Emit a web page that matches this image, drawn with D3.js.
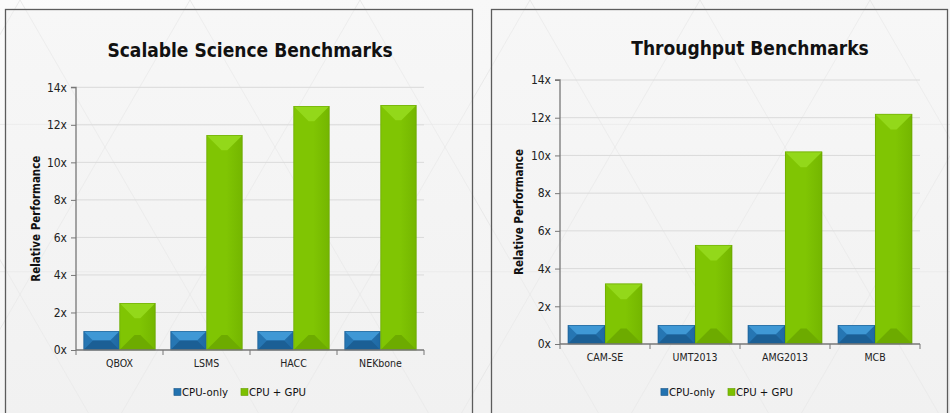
<!DOCTYPE html>
<html>
<head>
<meta charset="utf-8">
<script src="https://cdn.jsdelivr.net/npm/d3@7/dist/d3.min.js"></script>
<style>
  html, body { margin: 0; padding: 0; background: #f6f6f6; }
  svg { display: block; }
  text { font-family: "DejaVu Sans Condensed", "DejaVu Sans", sans-serif; font-stretch: condensed; }
</style>
</head>
<body>
<svg id="chart" width="950" height="413"></svg>
<script>
// ---- data ----
const seriesNames = ["CPU-only", "CPU + GPU"];
const yTickValues = [0, 2, 4, 6, 8, 10, 12, 14];

const scienceTitle = "Scalable Science Benchmarks";
const scienceCategories = ["QBOX", "LSMS", "HACC", "NEKbone"];
const scienceCpuOnly = [1, 1, 1, 1];
const scienceCpuGpu = [2.5, 11.45, 13.0, 13.05];

const throughputTitle = "Throughput Benchmarks";
const throughputCategories = ["CAM-SE", "UMT2013", "AMG2013", "MCB"];
const throughputCpuOnly = [1, 1, 1, 1];
const throughputCpuGpu = [3.2, 5.25, 10.2, 12.2];

const yLabel = "Relative Performance";

// ---- layout ----
const panels = [
  {
    title: scienceTitle, categories: scienceCategories,
    series: [scienceCpuOnly, scienceCpuGpu],
    box: { x: 5, y: 9, w: 468, h: 406 },
    plot: { left: 76, right: 424, top: 87.3, bottom: 350 },
    titlePos: [250, 57], yLabelX: 36, legendX: 240, legendY: 392
  },
  {
    title: throughputTitle, categories: throughputCategories,
    series: [throughputCpuOnly, throughputCpuGpu],
    box: { x: 491, y: 9, w: 457, h: 406 },
    plot: { left: 560, right: 920, top: 80, bottom: 344 },
    titlePos: [750, 55], yLabelX: 519, legendX: 727, legendY: 392
  }
];

// bevel colours: top, body gradient left/right, bottom, outline
const palettes = [
  { top: "#3f98d5", left: "#2676b3", right: "#1f69a3", bottom: "#1b5f95", edge: "#1a5687", swatch: "#2272b0" },
  { top: "#93d81a", left: "#80c503", right: "#74b600", bottom: "#6dab00", edge: "#649c00", swatch: "#7cc000" }
];

const svg = d3.select("#chart");
const defs = svg.append("defs");

// background
const bg = defs.append("linearGradient").attr("id", "bgGrad").attr("x1", 0).attr("y1", 0).attr("x2", 1).attr("y2", 1);
bg.append("stop").attr("offset", "0%").attr("stop-color", "#fbfbfb");
bg.append("stop").attr("offset", "100%").attr("stop-color", "#efefef");
svg.append("rect").attr("width", 950).attr("height", 413).attr("fill", "url(#bgGrad)");

// faint triangular lattice
function lattice(g, side, stroke, opacity) {
  const h = side * Math.sqrt(3) / 2;
  const lines = [];
  for (let y = -side; y < 413 + side; y += h) lines.push([-50, y, 1000, y]);
  const span = 1400;
  for (let x = -1000; x < 2000; x += side) {
    lines.push([x, 0, x + span / Math.sqrt(3), span]);
    lines.push([x, 0, x - span / Math.sqrt(3), span]);
  }
  g.selectAll("line.lat").data(lines).join("line")
    .attr("x1", d => d[0]).attr("y1", d => d[1]).attr("x2", d => d[2]).attr("y2", d => d[3])
    .attr("stroke", stroke).attr("stroke-width", 1).attr("opacity", opacity);
}
lattice(svg.append("g"), 170, "#e4e4e4", 0.7);

const panelGrad = defs.append("linearGradient").attr("id", "panelGrad").attr("x1", 0).attr("y1", 0).attr("x2", 0).attr("y2", 1);
panelGrad.append("stop").attr("offset", "0%").attr("stop-color", "#f7f7f7");
panelGrad.append("stop").attr("offset", "100%").attr("stop-color", "#f1f1f1");

// horizontal body gradients for each series
palettes.forEach((pal, i) => {
  const lgd = defs.append("linearGradient").attr("id", "body" + i).attr("x1", 0).attr("y1", 0).attr("x2", 1).attr("y2", 0);
  lgd.append("stop").attr("offset", "0%").attr("stop-color", pal.left);
  lgd.append("stop").attr("offset", "55%").attr("stop-color", pal.left);
  lgd.append("stop").attr("offset", "100%").attr("stop-color", pal.right);
});

function bevelBar(g, x, y, w, h, pal, si) {
  const d = Math.min(w * 0.42, h / 2);
  const x2 = x + w, y2 = y + h;
  const poly = (pts, fill) => g.append("polygon")
    .attr("points", pts.map(p => p.join(",")).join(" ")).attr("fill", fill);
  g.append("rect").attr("x", x).attr("y", y).attr("width", w).attr("height", h).attr("fill", `url(#body${si})`);
  poly([[x, y], [x2, y], [x2 - d, y + d], [x + d, y + d]], pal.top);
  poly([[x, y2], [x + d, y2 - d], [x2 - d, y2 - d], [x2, y2]], pal.bottom);
  g.append("rect").attr("x", x + 0.3).attr("y", y + 0.3).attr("width", w - 0.6).attr("height", h - 0.3)
    .attr("fill", "none").attr("stroke", pal.edge).attr("stroke-width", 0.7).attr("opacity", 0.7);
}

panels.forEach((p, pi) => {
  const g = svg.append("g");
  const clipId = "clip" + pi;
  defs.append("clipPath").attr("id", clipId).append("rect")
    .attr("x", p.box.x).attr("y", p.box.y).attr("width", p.box.w).attr("height", p.box.h);

  g.append("rect").attr("x", p.box.x).attr("y", p.box.y).attr("width", p.box.w).attr("height", p.box.h)
    .attr("fill", "url(#panelGrad)");
  lattice(g.append("g").attr("clip-path", `url(#${clipId})`), 170, "#e8e8e8", 0.6);
  g.append("rect").attr("x", p.box.x + 0.5).attr("y", p.box.y + 0.5).attr("width", p.box.w - 1).attr("height", p.box.h - 1)
    .attr("fill", "none").attr("stroke", "#5c5c5c").attr("stroke-width", 1.3);

  const y = d3.scaleLinear().domain([0, 14]).range([p.plot.bottom, p.plot.top]);
  const x0 = d3.scaleBand().domain(p.categories).range([p.plot.left, p.plot.right]).padding(0);
  const x1 = d3.scaleBand().domain(seriesNames).range([0, x0.bandwidth()]).paddingInner(0).paddingOuter(0.21);

  // gridlines
  g.append("g").selectAll("line").data(yTickValues.filter(v => v > 0)).join("line")
    .attr("x1", p.plot.left).attr("x2", p.plot.right)
    .attr("y1", d => y(d)).attr("y2", d => y(d))
    .attr("stroke", "#dadada").attr("stroke-width", 1);

  // title
  g.append("text").attr("x", p.titlePos[0]).attr("y", p.titlePos[1])
    .attr("text-anchor", "middle").attr("font-size", 19).attr("font-weight", "bold")
    .attr("fill", "#111").text(p.title);

  // bars
  const barsG = g.append("g");
  p.categories.forEach((cat, ci) => {
    seriesNames.forEach((s, si) => {
      const v = p.series[si][ci];
      const bx = x0(cat) + x1(s);
      bevelBar(barsG, bx, y(v), x1.bandwidth(), y(0) - y(v), palettes[si], si);
    });
  });

  // y axis
  const yAxis = d3.axisLeft(y).tickValues(yTickValues).tickFormat(d => d + "x").tickSize(5).tickPadding(4);
  const yg = g.append("g").attr("transform", `translate(${p.plot.left},0)`).call(yAxis);
  yg.select(".domain").attr("stroke", "#777").attr("stroke-width", 1.3).attr("d", `M-5,${p.plot.top}H0V${p.plot.bottom}`);
  yg.selectAll(".tick line").attr("stroke", "#777");
  yg.selectAll(".tick text").attr("font-size", 12).attr("fill", "#222")
    .style("font-family", "'DejaVu Sans Condensed', 'DejaVu Sans', sans-serif");

  // x axis
  const xAxis = d3.axisBottom(x0).tickSize(0).tickPadding(10);
  const xg = g.append("g").attr("transform", `translate(0,${p.plot.bottom})`).call(xAxis);
  xg.select(".domain").attr("stroke", "#777").attr("stroke-width", 1.3).attr("d", `M${p.plot.left},0H${p.plot.right}`);
  xg.selectAll(".tick text").attr("font-size", 10.5).attr("fill", "#222")
    .style("font-family", "'DejaVu Sans Condensed', 'DejaVu Sans', sans-serif");
  const bounds = p.categories.map(c => x0(c)).concat([p.plot.right]);
  xg.selectAll("line.sep").data(bounds).join("line").attr("class", "sep")
    .attr("x1", d => d).attr("x2", d => d).attr("y1", 0).attr("y2", 5)
    .attr("stroke", "#777").attr("stroke-width", 1);

  // y label
  g.append("text")
    .attr("transform", `translate(${p.yLabelX},${(p.plot.top + p.plot.bottom) / 2}) rotate(-90)`)
    .attr("text-anchor", "middle").attr("dy", "0.35em")
    .attr("font-size", 11.5).attr("font-weight", "bold").attr("fill", "#111").text(yLabel);

  // legend
  const lg = g.append("g");
  const items = lg.selectAll("g").data(seriesNames).join("g");
  items.append("rect").attr("width", 7).attr("height", 7).attr("y", -3.5)
    .attr("fill", (d, i) => palettes[i].swatch).attr("stroke", (d, i) => palettes[i].edge).attr("stroke-width", 0.6);
  items.append("text").attr("x", 8).attr("dy", "0.35em").attr("font-size", 11.3).attr("fill", "#111").text(d => d);
  let off = 0;
  const widths = [];
  items.each(function () { widths.push(this.getBBox().width); });
  const gap = 13;
  const total = d3.sum(widths) + gap * (widths.length - 1);
  items.attr("transform", (d, i) => {
    const t = `translate(${p.legendX - total / 2 + off},${p.legendY})`;
    off += widths[i] + gap;
    return t;
  });
});
</script>
</body>
</html>
